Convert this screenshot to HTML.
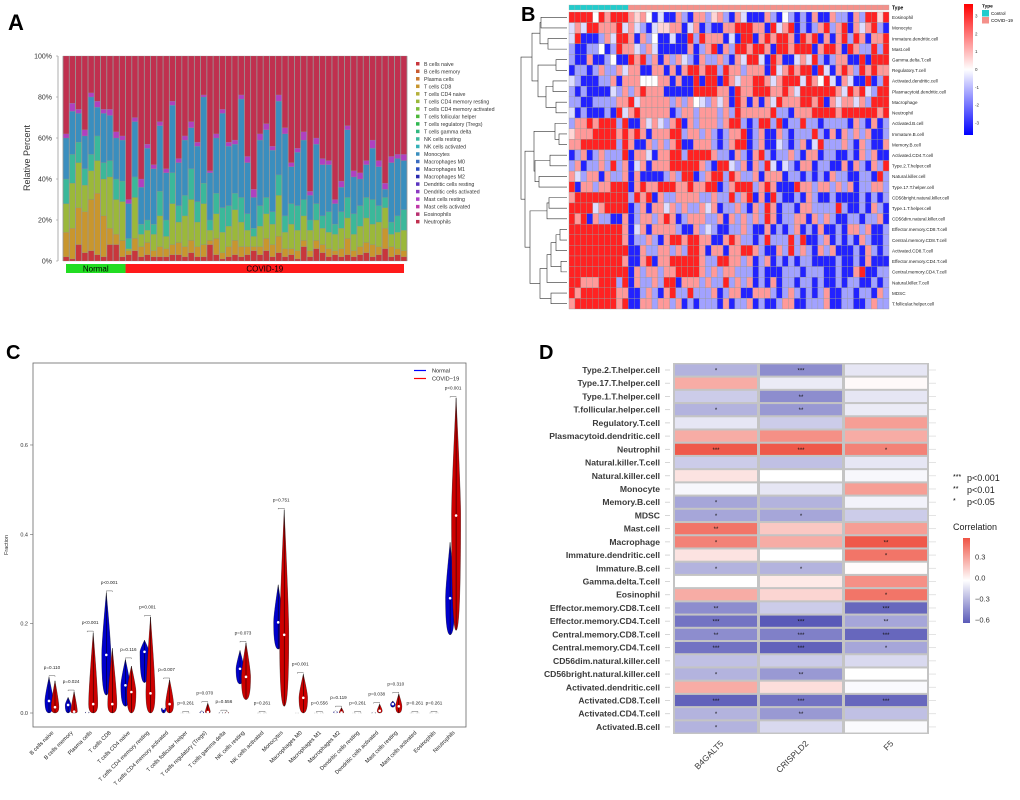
<!DOCTYPE html>
<html><head><meta charset="utf-8"><style>
html,body{margin:0;padding:0;background:#fff}
svg{display:block;font-family:"Liberation Sans",sans-serif}
</style></head><body>
<svg id="fig" width="1020" height="800" viewBox="0 0 1020 800" xmlns="http://www.w3.org/2000/svg">
<text x="8" y="30" font-size="22" font-weight="bold">A</text>
<text x="521" y="21" font-size="20" font-weight="bold">B</text>
<text x="6" y="359" font-size="20" font-weight="bold">C</text>
<text x="539" y="359" font-size="20" font-weight="bold">D</text>
<g id="pa"></g>
<g id="pb"></g>
<g id="pc"></g>
<g id="pd"></g>
</svg>
<script>
// ===== Panel A data =====
const aB   =[2,1,8,4,5,3,2,8,8,2, 3,5,2,3,2,2,2,3,3,2,4,2,2,8,3,1,2,3,2,3,5,3,5,2,4,2,3,1,7,2,6,4,2,3,2,3,2,3,4,2,3,6,2,3,2];
const aCD8 =[12,15,18,20,25,30,20,8,5,8, 2,6,5,6,3,5,4,5,6,5,6,5,6,2,8,3,5,7,5,4,2,4,6,6,8,4,3,4,3,3,4,4,4,2,4,8,3,4,5,6,4,10,5,3,3];
const aCD4 =[14,22,22,13,14,16,18,25,17,19, 1,20,6,6,8,15,6,20,10,15,20,12,20,5,12,10,10,15,12,8,5,10,12,10,20,8,12,10,12,10,10,8,8,8,10,10,8,10,12,10,12,10,6,8,10];
const aNK  =[12,14,10,8,8,12,8,8,10,10, 5,10,5,5,5,12,8,15,8,10,15,10,10,5,10,12,10,8,12,8,4,10,8,6,10,8,10,12,8,5,8,6,10,5,8,10,10,10,10,12,8,5,6,8,10];
const aMono=[20,21,14,16,28,14,24,22,20,20, 17,27,18,35,27,32,23,33,21,27,20,27,42,23,27,46,29,24,48,25,15,32,33,30,36,40,18,26,29,12,29,25,23,10,12,33,18,13,16,25,19,4,29,28,24];
const aMast=[2,4,2,3,2,3,2,3,3,2, 2,2,4,2,2,2,2,2,2,2,3,2,1,1,2,2,2,2,2,3,4,3,3,2,3,3,2,2,4,2,3,3,2,2,3,2,3,3,2,4,3,3,3,2,3];
const aNormalCount=10;
const aTicks=["0%","20%","40%","60%","80%","100%"];
const aLegend=["B cells naive","B cells memory","Plasma cells","T cells CD8","T cells CD4 naive","T cells CD4 memory resting","T cells CD4 memory activated","T cells follicular helper","T cells regulatory (Tregs)","T cells gamma delta","NK cells resting","NK cells activated","Monocytes","Macrophages M0","Macrophages M1","Macrophages M2","Dendritic cells resting","Dendritic cells activated","Mast cells resting","Mast cells activated","Eosinophils","Neutrophils"];
const aLegCol=["#c8363c","#c85a30","#c8782e","#c8962e","#b4b03a","#9bb83a","#7cbc3a","#4cb83a","#30b850","#30b880","#3bb8a0","#34b0b8","#3a8ebe","#3a6cc0","#2a4cc0","#2a2ab0","#5a34c0","#8a3ac0","#b040c8","#c038a8","#b83070","#c0304f"];

// ===== Panel B data =====
const bRows=["Eosinophil","Monocyte","Immature.dendritic.cell","Mast.cell","Gamma.delta.T.cell","Regulatory.T.cell","Activated.dendritic.cell","Plasmacytoid.dendritic.cell","Macrophage","Neutrophil","Activated.B.cell","Immature.B.cell","Memory.B.cell","Activated.CD4.T.cell","Type.2.T.helper.cell","Natural.killer.cell","Type.17.T.helper.cell","CD56bright.natural.killer.cell","Type.1.T.helper.cell","CD56dim.natural.killer.cell","Effector.memory.CD8.T.cell","Central.memory.CD8.T.cell","Activated.CD8.T.cell","Effector.memory.CD4.T.cell","Central.memory.CD4.T.cell","Natural.killer.T.cell","MDSC","T.follicular.helper.cell"];
const bCells=[
"RRRRwRrRRRrprwBlBBrbBrrbprbBrlBBBrbBwbBbBrBBrbbBrbRRpR",
"lrlRRrrrRlrlbBlpprrBlrBbBBrrRRRrrBRlrRBbBbrRbrRBrlrRbB",
"lRBBBbrlRRrBrbwBBlBBRbRrrrBlBRRBrRrRRrBRrRBrBrRbRrBrrR",
"bBBbbwBbRrrlbrlBBBBBrBbrRBrbRRrRRrBRRrRRRBrRRrBRrbbRbR",
"bBBrBBbwBBRrRbrBrbrlbBrbbrbBrlRRlBRrBBlrlRbBbrrBBRBRRR",
"BbbBbrbbrlrrBBrrBrBrRRrRRbRrrbrrrBRlrRrRRBRlBrRrbRrRrr",
"lbBBBbbrBrrrwwwrrBrBBRBRRBRrlrrRRrlrRRRlRrwRlBrlBBRBbR",
"bBbBBBBlbrbrRrrrBBBBBRRRRrrBRrrRRRrrRrlRRRRRRrlRrRlbRR",
"bbBBbbbbrrRlrrrrrbrbrwlbrlrBRrBrBrlRrrrRRrRBrlrrlrbRRR",
"lBbBBBbBRlrRrrrrrBbrrbrrrbrbRrrrrrRbbBrrrRRRRrRRRRRRrR",
"brrRrRRRbRBBrlrlbrRBrbrrrbrRRbBbRRbRBbbRbbBbbbbBrbBrBb",
"prrrRRRRrRrRrBrrrRRbrrbrbBbrrRBbrBBrbBbbbRbBrBrbrbrBBb",
"rrRRRRRRbRrBBrbrbrRBBrrrbBbrRRBbrBBlbBbrBlRbbbrbBrbBBr",
"BbrBbrbbbRBrrlBrrRRbRRRRrbbBrbBrRbBbbrbBrrBbbBBbBrbrBB",
"brBbbrbRbrBlrBrrrRRRRRrbBRRlbrBrbRlBlbBrrBbbBBrBrbBrbR",
"rlbrrBrbbrBrBBBBbrbRRBbrRRbRrbbrBrrrBbbBbBbBrbbBBbbBRb",
"RBrrbrrRRRBrRrrRRRrrRrrRRBbrRRRbrRrBBBRrrbrrbrbrBbbrrb",
"rRRRRRRRRRbRrRBrbbrrrrbbrbbRbrRBrBRbBBbBrbBBbBBBBbBbBb",
"RRRRlrRRRRBbrBrrlrbrbbrlrBbbrbBrbRrBbbBrrbbbbRbBBbBrbB",
"RrRBrbbBBrBbrrbrRrBbrrrbbrBrbrbrbRrBbbrrBrbrbBBbbBbbrB",
"RRRRRRRRRrBlrBrrrrbBBrblbBBbbrbBBrBbBbrBbBrBBbBrrbrBBb",
"RRRRRRRRRrBbbrbBrRRrRRrrBBrRrbbBbRbbbRbRBBbrBbBbBrbBBb",
"RRRRRRRRRRBBrbbrrbrbRRrBrrBrrRRrbBBrbRbrbBrbrBBBbBrbBb",
"RRRRRRRRRrBBrRBrrRRRRRrbbRRrrbrBbrBbBbBbbBBBBbBBbBrBBB",
"RRRRRRRRRRBrbrrbrrRRRRrbrbrrbbbBbBBBbbbBbbbBBbBBrRBBbb",
"RRrrrRRRbRBrbbrbRRBrrrbrbbRbrbrBbBrBbbBbbBbBBbBbbBBbBb",
"RrRRRRRRrrBBbrbBrRbbRbbbrBbrrBBrrrbBbrbBbBbrBBbbBbbBrb",
"rRRRRRRRrRBBrrbrrbrBbBbbbBrBbbrBbBBbrrBBbbbrBBbbBBbrbb"];
const bCodeVal={B:-2.6,b:-1.1,l:-0.4,w:0,p:0.5,r:1.2,R:2.6};
const bControlCount=10;
const bLegTicks=[3,2,1,0,-1,-2,-3];

// ===== Panel C data =====
const cCats=["B cells naive","B cells memory","Plasma cells","T cells CD8","T cells CD4 naive","T cells CD4 memory resting","T cells CD4 memory activated","T cells follicular helper","T cells regulatory (Tregs)","T cells gamma delta","NK cells resting","NK cells activated","Monocytes","Macrophages M0","Macrophages M1","Macrophages M2","Dendritic cells resting","Dendritic cells activated","Mast cells resting","Mast cells activated","Eosinophils","Neutrophils"];
const cNMin=[0,0,0,0.04,0.015,0.068,0,0,0,0,0.065,0,0.143,0,0,0,0,0,0.013,0,0,0.175];
const cNMax=[0.08,0.035,0.003,0.27,0.12,0.163,0.012,0,0.005,0.002,0.14,0,0.287,0,0,0.005,0,0.002,0.027,0,0,0.382];
const cNMed=[0.027,0.018,0.001,0.13,0.062,0.137,0.01,0,0.001,0,0.099,0,0.203,0,0,0.002,0,0,0.02,0,0,0.257];
const cCMin=[0,0,0,0,0,0,0,0,0,0,0.03,0,0.015,0,0,0,0,0,0,0,0,0.185];
const cCMax=[0.072,0.048,0.18,0.145,0.105,0.215,0.075,0,0.022,0.003,0.157,0,0.455,0.087,0,0.012,0,0.02,0.043,0,0,0.705];
const cCMed=[0.013,0.003,0.02,0.02,0.047,0.044,0.02,0,0.002,0,0.081,0,0.175,0.034,0,0.001,0,0.005,0.015,0,0,0.442];
const cP=["p=0.110","p=0.024","p<0.001","p<0.001","p=0.116","p<0.001","p=0.007","p=0.261","p=0.070","p=0.556","p=0.073","p=0.261","p=0.751","p<0.001","p=0.556","p=0.119","p=0.261","p=0.038","p=0.310","p=0.261","p=0.261","p<0.001"];
const cTicks=[0,0.2,0.4,0.6];

// ===== Panel D data =====
const dRows=["Type.2.T.helper.cell","Type.17.T.helper.cell","Type.1.T.helper.cell","T.follicular.helper.cell","Regulatory.T.cell","Plasmacytoid.dendritic.cell","Neutrophil","Natural.killer.T.cell","Natural.killer.cell","Monocyte","Memory.B.cell","MDSC","Mast.cell","Macrophage","Immature.dendritic.cell","Immature.B.cell","Gamma.delta.T.cell","Eosinophil","Effector.memory.CD8.T.cell","Effector.memory.CD4.T.cell","Central.memory.CD8.T.cell","Central.memory.CD4.T.cell","CD56dim.natural.killer.cell","CD56bright.natural.killer.cell","Activated.dendritic.cell","Activated.CD8.T.cell","Activated.CD4.T.cell","Activated.B.cell"];
const dGenes=["B4GALT5","CRISPLD2","F5"];
const dB4=[-0.3,0.3,-0.2,-0.3,-0.1,0.3,0.6,-0.2,0.1,-0.03,-0.35,-0.35,0.5,0.45,0.1,-0.3,0.0,0.3,-0.45,-0.55,-0.45,-0.55,-0.25,-0.3,0.3,-0.62,-0.3,-0.3];
const dCR=[-0.45,-0.08,-0.45,-0.4,-0.2,0.4,0.6,-0.25,0.0,-0.1,-0.3,-0.35,0.2,0.3,0.0,-0.3,0.08,0.15,-0.2,-0.65,-0.5,-0.62,-0.2,-0.4,0.12,-0.55,-0.4,-0.15];
const dF5=[-0.1,0.02,-0.1,-0.08,0.35,0.3,0.45,-0.1,-0.03,0.35,-0.05,-0.2,0.35,0.6,0.5,0.01,0.4,0.5,-0.6,-0.35,-0.6,-0.35,-0.15,0.0,-0.02,-0.6,-0.25,-0.02];
const dSB4=["*","","","*","","","***","","","","*","*","**","*","","*","","","**","***","**","***","","*","","***","*","*"];
const dSCR=["***","","**","**","","","***","","","","","*","","","","*","","","","***","***","***","","**","","***","**",""];
const dSF5=["","","","","","","*","","","","","","","**","*","","","*","***","**","***","*","","","","***","",""];
const dLegTicks=[0.3,0.0,-0.3,-0.6];

const NS="http://www.w3.org/2000/svg";
function mk(parent,tag,attrs,txt){const e=document.createElementNS(NS,tag);for(const k in attrs)e.setAttribute(k,attrs[k]);if(txt!==undefined)e.textContent=txt;parent.appendChild(e);return e;}

// ===== Panel A =====
(function(){
const g=document.getElementById('pa');
const x0=63,x1=407,yb=261,yt=56;
const n=aB.length,bw=(x1-x0)/n;
const ys=v=>yb-(yb-yt)*v/100;
mk(g,'line',{x1:58,y1:yt,x2:58,y2:yb,stroke:'#999','stroke-width':0.8});
aTicks.forEach((t,i)=>{const y=ys(i*20);
 const tl=mk(g,'text',{x:52,y:y+2.5,'font-size':7,'text-anchor':'end',fill:'#333'},t);
 
 mk(g,'line',{x1:56,y1:y,x2:58,y2:y,stroke:'#999','stroke-width':0.6});});
const yl=mk(g,'text',{x:0,y:0,'font-size':9,'text-anchor':'middle',fill:'#333',transform:'translate(30,158) rotate(-90)'},'Relative Percent');

const segs=[[aB,'#c8363c'],[aCD8,'#c8962e'],[aCD4,'#9bb83a'],[aNK,'#3bb89a'],[aMono,'#3a8ebe'],[aMast,'#b040c0']];
for(let i=0;i<n;i++){
 const bx=x0+i*bw;let acc=0;
 segs.forEach(([arr,col])=>{const v=arr[i];
  const r=mk(g,'rect',{x:bx,y:ys(acc+v),width:bw,height:ys(acc)-ys(acc+v),fill:col,stroke:'#888','stroke-width':0.25});
  acc+=v;});
 const r=mk(g,'rect',{x:bx,y:yt,width:bw,height:ys(acc)-yt,fill:'#c0304f',stroke:'#888','stroke-width':0.25});
 
 mk(g,'line',{x1:bx,y1:yt,x2:bx,y2:yb,stroke:'#999','stroke-width':0.8});
}
mk(g,'line',{x1:x1,y1:yt,x2:x1,y2:yb,stroke:'#999','stroke-width':0.8});
const sx=x0+aNormalCount*bw;
const gn=mk(g,'rect',{x:66,y:264,width:sx-66,height:9,fill:'#22dd22'});

const gc=mk(g,'rect',{x:sx,y:264,width:404-sx,height:9,fill:'#ff1a1a'});

mk(g,'text',{x:(66+sx)/2,y:271.5,'font-size':8,'text-anchor':'middle'},'Normal');
mk(g,'text',{x:(sx+404)/2,y:271.5,'font-size':8,'text-anchor':'middle'},'COVID-19');
aLegend.forEach((t,i)=>{const y=64+i*7.52;
 const s=mk(g,'rect',{x:416,y:y-2,width:3.5,height:3.5,fill:aLegCol[i]});
 
 const tx=mk(g,'text',{x:424,y:y+1.8,'font-size':5.3,fill:'#333'},t);
 });
})();

// ===== Panel B =====
(function(){
const g=document.getElementById('pb');
const x0=569,x1=889,y0=12,y1=309;
const nc=54,nr=bRows.length,cw=(x1-x0)/nc,rh=(y1-y0)/nr;
function col(v){const t=Math.min(1,Math.abs(v)/3);const c=Math.round(255*(1-t));return v>=0?`rgb(255,${c},${c})`:`rgb(${c},${c},255)`;}
for(let j=0;j<nc;j++){
 const a=mk(g,'rect',{x:x0+j*cw,y:5,width:cw,height:5,fill:j<bControlCount?'#22cccc':'#f4908a',stroke:'#aaa','stroke-width':0.3});
 }
mk(g,'text',{x:892,y:9.5,'font-size':5,'font-weight':'bold'},'Type');
bCells.forEach((row,i)=>{
 for(let j=0;j<nc;j++){const v=bCodeVal[row[j]||'w'];
  const r=mk(g,'rect',{x:x0+j*cw,y:y0+i*rh,width:cw,height:rh,fill:col(v),stroke:'#999','stroke-width':0.35});
  }
 const t=mk(g,'text',{x:892,y:y0+(i+0.5)*rh+1.8,'font-size':4.6,fill:'#222'},bRows[i]);
 
});
const merges=[[0,1,541],[2,3,548],[28,29,540],[4,5,556],[6,7,553],[8,9,556],[32,33,546],[31,34,538],[30,35,532],[11,12,559],[10,37,555],[13,14,550],[15,16,539],[39,40,535],[38,41,534],[17,18,549],[43,19,547],[20,21,560],[45,22,556],[23,24,561],[46,47,551],[48,25,547],[26,27,551],[49,50,540],[44,51,530],[42,52,525],[36,53,521]];
const nodes=[];for(let i=0;i<nr;i++)nodes.push({x:567,y:y0+(i+0.5)*rh});
merges.forEach(([a,b,h])=>{const A=nodes[a],B=nodes[b];
 mk(g,'path',{d:`M${A.x},${A.y}H${h}V${B.y}H${B.x}`,fill:'none',stroke:'#333','stroke-width':0.6});
 nodes.push({x:h,y:(A.y+B.y)/2});});
const lg=mk(g,'defs',{});const gr=mk(lg,'linearGradient',{id:'bgrad',x1:0,y1:0,x2:0,y2:1});
[['0','#ff0000'],['0.5','#ffffff'],['1','#0000ff']].forEach(([o,c])=>mk(gr,'stop',{offset:o,'stop-color':c}));
const cb=mk(g,'rect',{x:964,y:4,width:9,height:131,fill:'url(#bgrad)'});

bLegTicks.forEach(v=>{mk(g,'text',{x:975,y:69.5-v*17.8+1.5,'font-size':4.5,fill:'#333'},String(v));});
mk(g,'text',{x:982,y:7.5,'font-size':4.8,'font-weight':'bold'},'Type');
mk(g,'rect',{x:982,y:10,width:7,height:6.5,fill:'#22cccc'});
mk(g,'rect',{x:982,y:17,width:7,height:6.5,fill:'#f4908a'});
mk(g,'text',{x:991,y:15,'font-size':4.5},'Control');
mk(g,'text',{x:991,y:22,'font-size':4.5},'COVID−19');
})();

// ===== Panel C =====
(function(){
const g=document.getElementById('pc');
const bx0=33,bx1=466,by0=363,by1=727;
const ys=v=>713-v*446.7;
const cx=i=>52+i*19.1;
mk(g,'rect',{x:bx0,y:by0,width:bx1-bx0,height:by1-by0,fill:'none',stroke:'#666','stroke-width':0.8});
cTicks.forEach(t=>{const y=ys(t);mk(g,'line',{x1:bx0-3,y1:y,x2:bx0,y2:y,stroke:'#666','stroke-width':0.6});
 const l=mk(g,'text',{x:bx0-5,y:y+2,'font-size':5.5,'text-anchor':'end',fill:'#333'},t.toFixed(1));
 });
const yt=mk(g,'text',{x:0,y:0,'font-size':5.5,'text-anchor':'middle',fill:'#333',transform:'translate(8,545) rotate(-90)'},'Fraction');

function violin(x,mn,mx,md,fill,name){
 const yt=ys(mx),yb=ys(mn),ym=ys(md);
 const w=Math.min(4.6,2+(yb-yt)*0.06);
 if(yb-yt<0.8){mk(g,'line',{x1:x-2,y1:yb,x2:x+2,y2:yb,stroke:'#888','stroke-width':0.4,'stroke-dasharray':'0.6 0.8'});return;}
 const p=mk(g,'path',{d:`M${x},${yt}Q${x+w},${ym-(ym-yt)*0.2} ${x+w},${ym}Q${x+w},${yb} ${x},${yb}Q${x-w},${yb} ${x-w},${ym}Q${x-w},${ym-(ym-yt)*0.2} ${x},${yt}Z`,fill:fill,stroke:'#111','stroke-width':0.3});
 
 mk(g,'line',{x1:x,y1:yt,x2:x,y2:yb,stroke:'#000','stroke-width':0.5});
 const d=mk(g,'circle',{cx:x,cy:ym,r:1.3,fill:'#fff'});
 
}
cCats.forEach((c,i)=>{
 const x=cx(i);
 violin(x-3,cNMin[i],cNMax[i],cNMed[i],'#0000cc','violin-normal');
 violin(x+3,cCMin[i],cCMax[i],cCMed[i],'#cc0000','violin-covid');
 const top=Math.max(cNMax[i],cCMax[i]);const by=ys(top)-1.5;
 mk(g,'path',{d:`M${x-3},${by+1}V${by}H${x+3}V${by+1}`,fill:'none',stroke:'#333','stroke-width':0.4});
 const pt=mk(g,'text',{x:x,y:by-7,'font-size':4.6,'text-anchor':'middle',fill:'#222'},cP[i]);
 
 const xl=mk(g,'text',{x:0,y:0,'font-size':5.6,'text-anchor':'end',fill:'#222',transform:`translate(${x+2},733) rotate(-45)`},c);
 
});
mk(g,'line',{x1:414,y1:370.5,x2:426,y2:370.5,stroke:'#0000ff','stroke-width':1.2});
mk(g,'line',{x1:414,y1:378.5,x2:426,y2:378.5,stroke:'#ff0000','stroke-width':1.2});
const l1=mk(g,'text',{x:432,y:372.5,'font-size':5.6,fill:'#222'},'Normal');

const l2=mk(g,'text',{x:432,y:380.5,'font-size':5.6,fill:'#222'},'COVID−19');

})();

// ===== Panel D =====
(function(){
const g=document.getElementById('pd');
const y0=370,step=13.22;
function col(v){const t=Math.min(1,Math.abs(v)/0.65);
 const hi=v>=0?[238,75,59]:[90,90,184];
 const c=hi.map(h=>Math.round(255+(h-255)*t));return `rgb(${c[0]},${c[1]},${c[2]})`;}
mk(g,'rect',{x:673,y:363,width:256,height:371,fill:'#c4c4c4'});
const vals=[dB4,dCR,dF5],stars=[dSB4,dSCR,dSF5];
dRows.forEach((r,i)=>{const cy=y0+i*step;
 mk(g,'line',{x1:665,y1:cy,x2:670,y2:cy,stroke:'#ccc','stroke-width':0.8});
 mk(g,'line',{x1:929,y1:cy,x2:936,y2:cy,stroke:'#ddd','stroke-width':0.8});
 const l=mk(g,'text',{x:660,y:cy+3,'font-size':8.6,'font-weight':'bold','text-anchor':'end',fill:'#3a3a3a'},r);
 
 for(let j=0;j<3;j++){
  const t=mk(g,'rect',{x:675+j*85,y:cy-5.6,width:82,height:11.2,fill:col(vals[j][i])});
  
  if(stars[j][i])mk(g,'text',{x:716+j*85,y:cy+2.5,'font-size':6,'text-anchor':'middle',fill:'#111'},stars[j][i]);
 }
});
dGenes.forEach((gn,j)=>{const x=716+j*85;
 const t=mk(g,'text',{x:0,y:0,'font-size':8.5,'text-anchor':'end',fill:'#3a3a3a',transform:`translate(${x+8},744) rotate(-45)`},gn);
 });
[['***','p<0.001',481],['**','p<0.01',493],['*','p<0.05',505]].forEach(([s,p,y])=>{
 mk(g,'text',{x:953,y:y-2,'font-size':7},s);
 const t=mk(g,'text',{x:967,y:y,'font-size':9,fill:'#222'},p);
 });
const ct=mk(g,'text',{x:953,y:530,'font-size':9,fill:'#222'},'Correlation');

const df=mk(g,'defs',{});const gr=mk(df,'linearGradient',{id:'dgrad',x1:0,y1:0,x2:0,y2:1});
[[0,0.62],[0.5,0],[1,-0.67]].forEach(([o,v])=>mk(gr,'stop',{offset:o,'stop-color':col(v)}));
const cb=mk(g,'rect',{x:963,y:538,width:7,height:85,fill:'url(#dgrad)'});

dLegTicks.forEach(v=>{const y=577.5-v*70;
 mk(g,'text',{x:975,y:y+3,'font-size':7.5,fill:'#333'},(v<0?'−':'')+Math.abs(v).toFixed(1));});
})();
</script>
</body></html>
